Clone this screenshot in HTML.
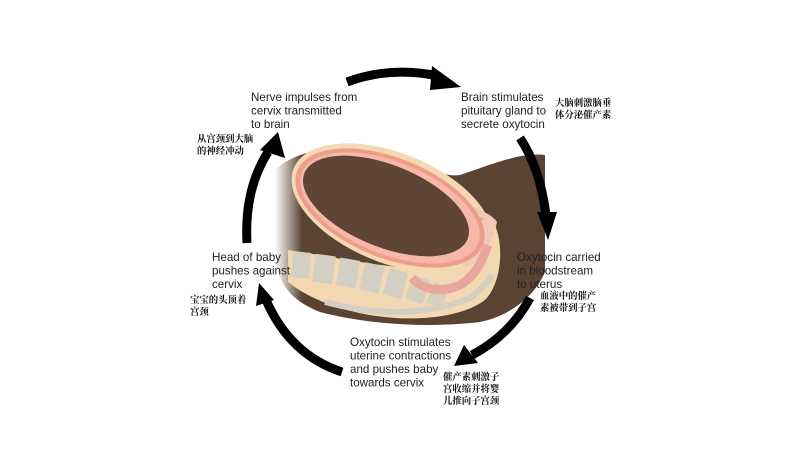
<!DOCTYPE html>
<html><head><meta charset="utf-8"><style>
html,body{margin:0;padding:0;background:#fff;}
svg{display:block}
.t{font-family:"Liberation Sans",sans-serif;font-size:11.6px;fill:#222}
.c{font-family:"Liberation Serif","Noto Serif CJK SC",serif;font-size:9.4px;fill:#111;font-weight:bold}
</style></head><body>
<svg width="800" height="450" viewBox="0 0 800 450">
<defs>
<linearGradient id="fade" x1="0" x2="1" y1="0" y2="0">
<stop offset="0" stop-color="#5a4333" stop-opacity="0"/>
<stop offset="0.1" stop-color="#5a4333"/>
<stop offset="1" stop-color="#5a4333"/>
</linearGradient>
</defs>
<!-- dark body -->
<path d="M275,170 C295,150 340,142 390,152 C420,162 440,178 460,175 C490,165 520,152 545,155 L545,272 C535,296 510,316 480,322 C430,328 370,325 320,312 C295,302 280,288 276,262 Z" fill="url(#fade)"/>
<!-- peach lower body -->
<path d="M288,250 C330,256 380,268 440,270 C465,268 480,255 486,232 L495,225 C505,250 500,285 485,300 C465,315 430,320 395,318 C350,315 310,300 288,282 Z" fill="#f3d8b4"/>
<!-- peach band around uterus -->
<ellipse cx="392" cy="208" rx="106" ry="55" transform="rotate(22 392 208)" fill="#f3d8b4"/>
<!-- cervix region -->
<path d="M450,200 C470,205 490,212 497,222 C492,245 478,262 465,268 C455,250 450,225 450,200Z" fill="#f1c9b7"/>
<path d="M458,214 L484,218 L468,240 Z" fill="#e6a59c"/>
<!-- uterus -->
<ellipse cx="390" cy="208" rx="100" ry="50" transform="rotate(22 390 208)" fill="#ef9d8b"/>
<ellipse cx="390" cy="208" rx="95" ry="46" transform="rotate(22 390 208)" fill="#f6b9a8"/>
<ellipse cx="386" cy="206" rx="88" ry="41" transform="rotate(22 386 206)" fill="#5e4535"/>
<!-- spine -->
<g fill="#d3cfc2">
<rect x="292" y="252" width="18" height="26" transform="rotate(6 301 265)"/>
<rect x="314" y="255" width="20" height="28" transform="rotate(8 324 269)"/>
<rect x="338" y="259" width="20" height="28" transform="rotate(10 348 273)"/>
<rect x="362" y="264" width="20" height="28" transform="rotate(13 372 278)"/>
<rect x="386" y="270" width="19" height="27" transform="rotate(16 395 283)"/>
<rect x="409" y="277" width="18" height="25" transform="rotate(19 418 290)"/>
<rect x="430" y="284" width="16" height="22" transform="rotate(22 438 295)"/>
</g>
<path d="M325,302 C370,314 420,318 470,298 C480,290 488,282 492,275" stroke="#d3cfc2" stroke-width="6" fill="none"/>
<!-- intestines -->
<path d="M412,278 C425,292 445,292 460,285 C475,276 482,262 488,245" stroke="#eaa59c" stroke-width="9" fill="none"/>
<!-- arrows -->
<g fill="none" stroke="#000" stroke-width="9">
<path d="M347,82 Q390,66 438,76"/>
<path d="M520,138 Q540,168 546,215"/>
<path d="M530,298 Q510,335 472,355"/>
<path d="M342,372 Q290,355 266,300"/>
<path d="M247,243 Q244,190 268,152"/>
</g>
<g fill="#000">
<polygon points="432,66 461,87 430,90"/>
<polygon points="537,212 557,212 548,240"/>
<polygon points="464,345 478,363 454,366"/>
<polygon points="256,306 274,300 259,283"/>
<polygon points="260,150 285,158 278,132"/>
</g>
<!-- text -->
<text class="t" x="251" y="101">Nerve impulses from</text>
<text class="t" x="251" y="114.5">cervix transmitted</text>
<text class="t" x="251" y="128">to brain</text>
<text class="t" x="461" y="101">Brain stimulates</text>
<text class="t" x="461" y="114.5">pituitary gland to</text>
<text class="t" x="461" y="128">secrete oxytocin</text>
<text class="c" x="555" y="106">大脑刺激脑垂</text>
<text class="c" x="555" y="118">体分泌催产素</text>
<text class="c" x="197" y="142">从宫颈到大脑</text>
<text class="c" x="197" y="154">的神经冲动</text>
<text class="t" x="212" y="261">Head of baby</text>
<text class="t" x="212" y="274.5">pushes against</text>
<text class="t" x="212" y="288">cervix</text>
<text class="c" x="190" y="303">宝宝的头顶着</text>
<text class="c" x="190" y="315">宫颈</text>
<text class="t" x="517" y="261">Oxytocin carried</text>
<text class="t" x="517" y="274.5">in bloodstream</text>
<text class="t" x="517" y="288">to uterus</text>
<text class="c" x="540" y="299">血液中的催产</text>
<text class="c" x="540" y="311">素被带到子宫</text>
<text class="t" x="350" y="346">Oxytocin stimulates</text>
<text class="t" x="350" y="359.5">uterine contractions</text>
<text class="t" x="350" y="373">and pushes baby</text>
<text class="t" x="350" y="386.5">towards cervix</text>
<text class="c" x="443" y="380">催产素刺激子</text>
<text class="c" x="443" y="392">宫收缩并将婴</text>
<text class="c" x="443" y="404">儿推向子宫颈</text>
</svg>
</body></html>
